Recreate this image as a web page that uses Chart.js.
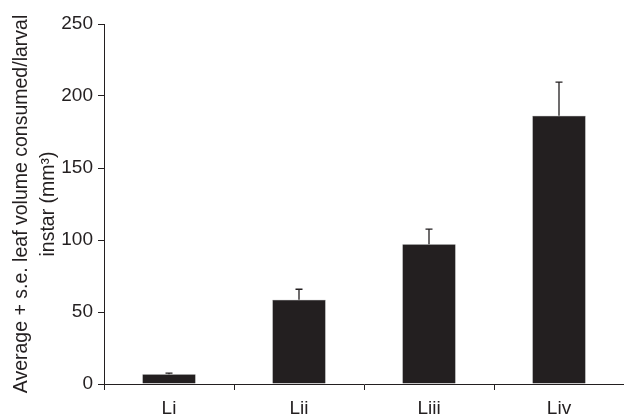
<!DOCTYPE html>
<html>
<head>
<meta charset="utf-8">
<script src="https://cdn.jsdelivr.net/npm/chart.js@4/dist/chart.umd.min.js"></script>
<style>
  html, body { margin: 0; padding: 0; background: #fff; overflow: hidden; }
  #wrap { width: 624px; height: 419px; }
</style>
</head>
<body>
<div id="wrap"><canvas id="chart" width="624" height="419"></canvas></div>
<script>
// Larval instars and leaf volume consumed (mm3)
const instars = ['Li', 'Lii', 'Liii', 'Liv'];
const meanVolume = [6.7, 58.5, 97, 186.3];
const seVolume = [0.8, 7.3, 10.6, 23.4];
const yTicks = [0, 50, 100, 150, 200, 250];

const ink = '#231f20';

// Draws the upper (+ s.e.) error bars on top of each bar
const errorBars = {
    id: 'errorBars',
    afterDatasetsDraw(chart) {
        const ctx = chart.ctx;
        const yScale = chart.scales.y;
        const meta = chart.getDatasetMeta(0);
        ctx.save();
        ctx.strokeStyle = ink;
        ctx.lineWidth = 1.3;
        meta.data.forEach(function (bar, i) {
            const top = yScale.getPixelForValue(meanVolume[i] + seVolume[i]);
            ctx.beginPath();
            ctx.moveTo(bar.x, bar.y);
            ctx.lineTo(bar.x, top);
            ctx.moveTo(bar.x - 3.5, top);
            ctx.lineTo(bar.x + 3.5, top);
            ctx.stroke();
        });
        ctx.restore();
    }
};

var ctx = document.getElementById('chart').getContext('2d');
var volumeChart = new Chart(ctx, {
    type: 'bar',
    data: {
        labels: instars,
        datasets: [{
            data: meanVolume,
            backgroundColor: ink,
            borderColor: '#555',
            borderWidth: 0.6,
            barPercentage: 0.41,
            categoryPercentage: 1
        }]
    },
    options: {
        responsive: false,
        animation: false,
        layout: { padding: { top: 24, right: 0, left: 0, bottom: 0 } },
        plugins: {
            legend: { display: false },
            tooltip: { enabled: false }
        },
        scales: {
            x: {
                afterFit(scale) { scale.height = 35; },
                border: { color: ink, width: 1 },
                grid: { drawOnChartArea: false, drawTicks: true, tickLength: 6, color: ink },
                ticks: {
                    color: ink,
                    padding: 7,
                    font: { family: 'Liberation Sans, Arial', size: 19 }
                }
            },
            y: {
                min: 0,
                max: 250,
                afterFit(scale) { scale.width = 104; },
                afterBuildTicks(scale) { scale.ticks = yTicks.map(v => ({ value: v })); },
                border: { color: ink, width: 1 },
                grid: { drawOnChartArea: false, drawTicks: true, tickLength: 6, color: ink },
                ticks: {
                    color: ink,
                    padding: 5,
                    font: { family: 'Liberation Sans, Arial', size: 19 }
                },
                title: {
                    display: true,
                    text: ['Average + s.e. leaf volume consumed/larval', 'instar (mm\u00b3)'],
                    color: ink,
                    padding: { top: 8, bottom: 0 },
                    font: { family: 'Liberation Sans, Arial', size: 19.5, lineHeight: 1.38 }
                }
            }
        }
    },
    plugins: [errorBars]
});
</script>
</body>
</html>
